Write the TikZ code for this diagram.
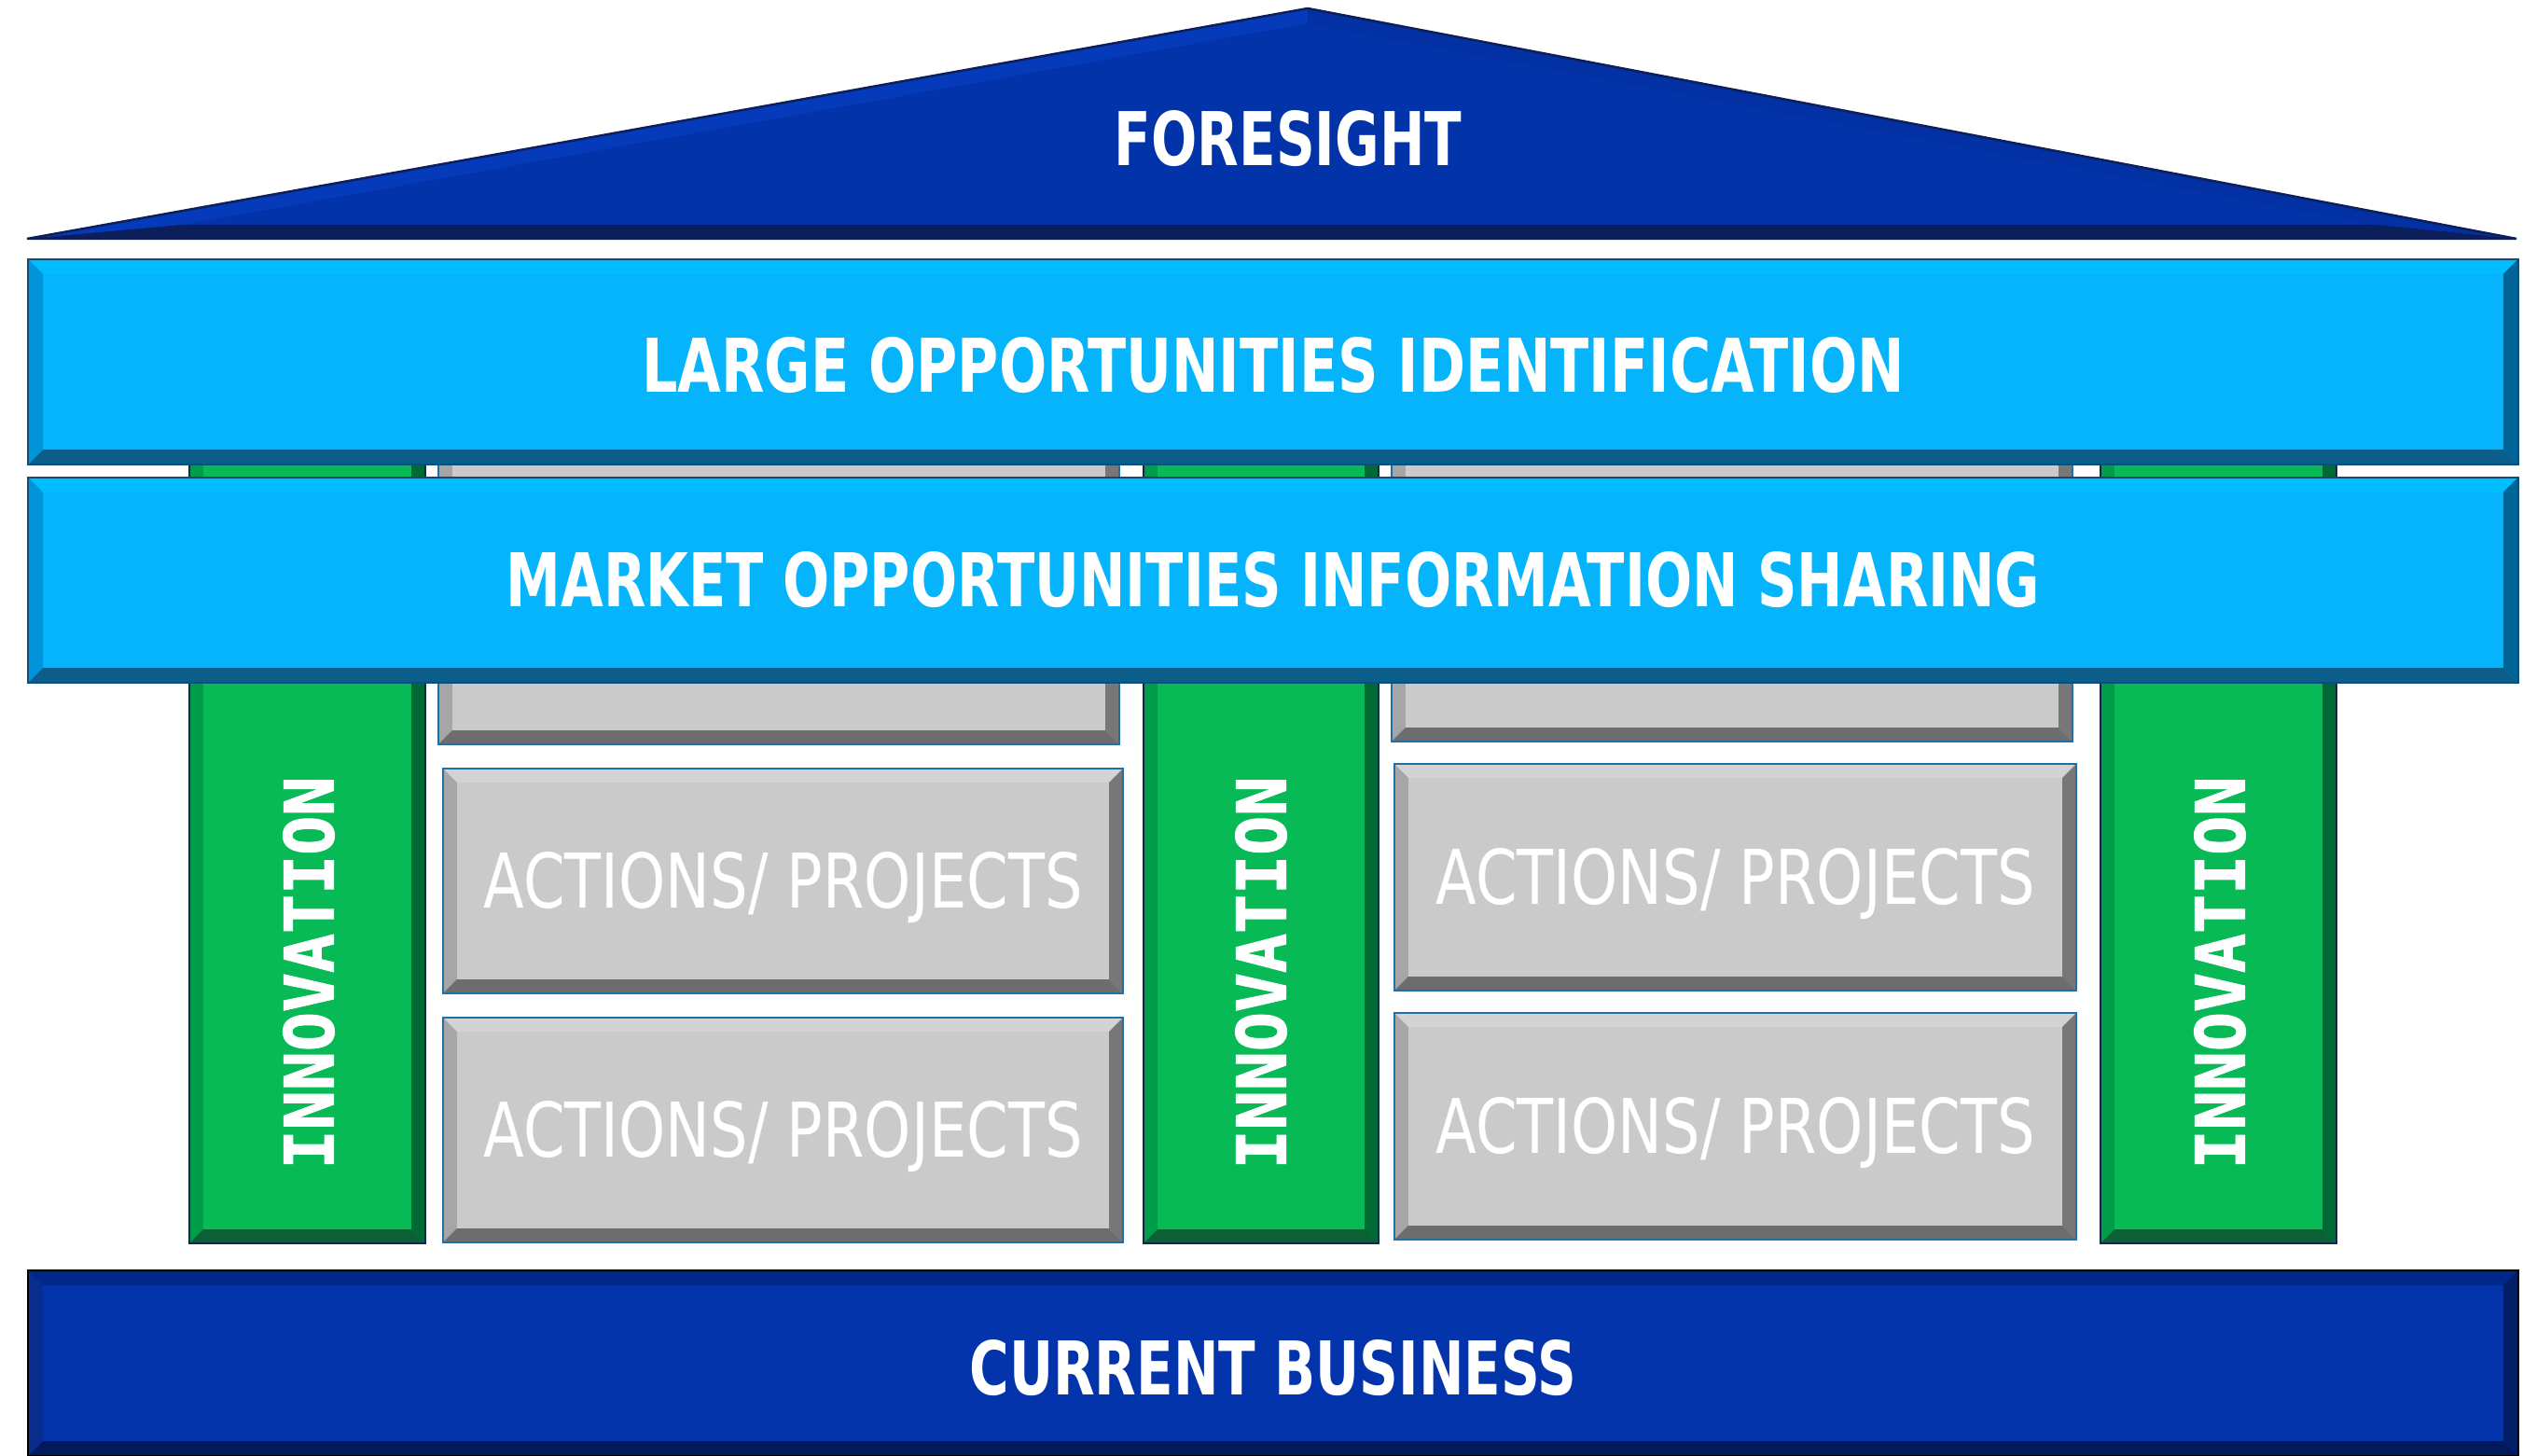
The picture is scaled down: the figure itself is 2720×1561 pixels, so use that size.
\documentclass[tikz,border=0pt]{standalone}
\usepackage{fontspec}
\usepackage{graphicx}
\newfontfamily\titlefont{DejaVu Sans}[FakeStretch=0.73]
\newfontfamily\plainfont{DejaVu Sans}[FakeStretch=0.79]
\newfontfamily\innofont{DejaVu Sans Mono}[FakeStretch=0.96, FakeBold=1.6]
\definecolor{roofface}{HTML}{0333A8}
\definecolor{roofdark}{HTML}{0C1F5B}
\definecolor{roofhi}{HTML}{053BBA}
\definecolor{rooflo}{HTML}{0330A2}
\definecolor{skyface}{HTML}{06B4FC}
\definecolor{skytop}{HTML}{00BDFF}
\definecolor{skyleft}{HTML}{0095DB}
\definecolor{skyright}{HTML}{006496}
\definecolor{skybot}{HTML}{0B5E89}
\definecolor{skyline}{HTML}{0B4F7A}
\definecolor{grnface}{HTML}{07BA56}
\definecolor{grntop}{HTML}{08C25C}
\definecolor{grnleft}{HTML}{009D48}
\definecolor{grnright}{HTML}{006934}
\definecolor{grnbot}{HTML}{0B6134}
\definecolor{grnline}{HTML}{102850}
\definecolor{gryface}{HTML}{CACACA}
\definecolor{grytop}{HTML}{D3D3D3}
\definecolor{gryleft}{HTML}{A6A6A6}
\definecolor{gryright}{HTML}{777777}
\definecolor{grybot}{HTML}{6D6D6D}
\definecolor{gryline}{HTML}{1F6FA8}
\definecolor{baseface}{HTML}{0434AC}
\definecolor{basetop}{HTML}{00278A}
\definecolor{baseleft}{HTML}{0A2C8C}
\definecolor{baseright}{HTML}{001F66}
\definecolor{basebot}{HTML}{001A5C}
\definecolor{baseline}{HTML}{0A1D50}
\newcommand\bevelize[7]{%
  \fill[#3] (#1.north west) -- (#1.north east) -- ([xshift=-#2,yshift=-#2]#1.north east) -- ([xshift=#2,yshift=-#2]#1.north west) -- cycle;
  \fill[#4] (#1.north west) -- ([xshift=#2,yshift=-#2]#1.north west) -- ([xshift=#2,yshift=#2]#1.south west) -- (#1.south west) -- cycle;
  \fill[#5] (#1.north east) -- ([xshift=-#2,yshift=-#2]#1.north east) -- ([xshift=-#2,yshift=#2]#1.south east) -- (#1.south east) -- cycle;
  \fill[#6] (#1.south west) -- ([xshift=#2,yshift=#2]#1.south west) -- ([xshift=-#2,yshift=#2]#1.south east) -- (#1.south east) -- cycle;
  \draw[#7, line width=0.7pt] (#1.north west) rectangle (#1.south east);
}
\tikzset{
  slab/.style={rectangle, inner sep=0pt, outer sep=0pt, draw=none},
  skybar/.style={slab, fill=skyface, minimum width=26.68cm, minimum height=2.20cm},
  pillar/.style={slab, fill=grnface, minimum width=2.53cm, minimum height=8.53cm},
  graybox/.style={slab, fill=gryface},
  titletext/.style={text=white, font=\titlefont\bfseries\fontsize{22.6}{26}\selectfont},
  innotext/.style={text=white, rotate=90, font=\innofont\bfseries\fontsize{20.7}{24}\selectfont},
  actiontext/.style={text=white, font=\plainfont\fontsize{23}{26}\selectfont},
}
\begin{document}
\begin{tikzpicture}[x=0.01cm,y=0.01cm]
\useasboundingbox (0,0) rectangle (2720,1561);
% roof
\fill[roofface] (29,1305) -- (1402,1552) -- (2698,1305) -- cycle;
\fill[roofhi] (29,1305) -- (1402,1552) -- (1402,1536) -- (196,1320) -- cycle;
\fill[rooflo] (2698,1305) -- (1402,1552) -- (1402,1536) -- (2547,1320) -- cycle;
\fill[roofdark] (29,1305) -- (196,1320) -- (2547,1320) -- (2698,1305) -- cycle;
\draw[roofdark, line width=0.7pt] (29,1305) -- (1402,1552) -- (2698,1305) -- cycle;
\node[titletext] (foresight) at (1381,1412) {FORESIGHT};
% pillars
\node[pillar, minimum width=2.53cm] (pilA) at (329.5,654.5) {};
\bevelize{pilA}{0.15cm}{grntop}{grnleft}{grnright}{grnbot}{grnline}
\node[pillar, minimum width=2.52cm] (pilB) at (1352,654.5) {};
\bevelize{pilB}{0.15cm}{grntop}{grnleft}{grnright}{grnbot}{grnline}
\node[pillar, minimum width=2.53cm] (pilC) at (2378.5,654.5) {};
\bevelize{pilC}{0.15cm}{grntop}{grnleft}{grnright}{grnbot}{grnline}
% top gray boxes (behind bars)
\node[graybox, minimum width=7.30cm, minimum height=3.18cm] (grayLT) at (835,922) {};
\bevelize{grayLT}{0.15cm}{grytop}{gryleft}{gryright}{grybot}{gryline}
\node[graybox, minimum width=7.30cm, minimum height=3.15cm] (grayRT) at (1857,923.5) {};
\bevelize{grayRT}{0.15cm}{grytop}{gryleft}{gryright}{grybot}{gryline}
% blue bars
\node[skybar] (large) at (1365,1173) {};
\bevelize{large}{0.16cm}{skytop}{skyleft}{skyright}{skybot}{skyline}
\node[titletext] (largetext) at ([yshift=-0.04cm]large.center) {\scalebox{1.04}[1]{LARGE OPPORTUNITIES IDENTIFICATION}};
\node[skybar] (market) at (1365,939) {};
\bevelize{market}{0.16cm}{skytop}{skyleft}{skyright}{skybot}{skyline}
\node[titletext] (markettext) at (market.center) {\scalebox{1.018}[1]{MARKET OPPORTUNITIES INFORMATION SHARING}};
% innovation labels
\node[innotext] (innoA) at (331,518) {INNOVATION};
\node[innotext] (innoB) at (1352,518) {INNOVATION};
\node[innotext] (innoC) at (2380,518) {INNOVATION};
% action boxes
\node[graybox, minimum width=7.29cm, minimum height=2.41cm] (actLM) at (839.5,616.5) {};
\bevelize{actLM}{0.15cm}{grytop}{gryleft}{gryright}{grybot}{gryline}
\node[actiontext] (actLMtext) at ([yshift=-0.07cm]actLM.center) {ACTIONS/ PROJECTS};
\node[graybox, minimum width=7.29cm, minimum height=2.41cm] (actLB) at (839.5,349.5) {};
\bevelize{actLB}{0.15cm}{grytop}{gryleft}{gryright}{grybot}{gryline}
\node[actiontext] (actLBtext) at ([yshift=-0.07cm]actLB.center) {ACTIONS/ PROJECTS};
\node[graybox, minimum width=7.31cm, minimum height=2.43cm] (actRM) at (1860.5,620.5) {};
\bevelize{actRM}{0.15cm}{grytop}{gryleft}{gryright}{grybot}{gryline}
\node[actiontext] (actRMtext) at ([yshift=-0.07cm]actRM.center) {ACTIONS/ PROJECTS};
\node[graybox, minimum width=7.31cm, minimum height=2.43cm] (actRB) at (1860.5,353.5) {};
\bevelize{actRB}{0.15cm}{grytop}{gryleft}{gryright}{grybot}{gryline}
\node[actiontext] (actRBtext) at ([yshift=-0.07cm]actRB.center) {ACTIONS/ PROJECTS};
% base
\node[slab, fill=baseface, minimum width=26.68cm, minimum height=1.99cm] (current) at (1365,99.5) {};
\bevelize{current}{0.16cm}{basetop}{baseleft}{baseright}{basebot}{baseline}
\node[titletext] (currenttext) at ([yshift=-0.05cm]current.center) {CURRENT BUSINESS};
\end{tikzpicture}
\end{document}
